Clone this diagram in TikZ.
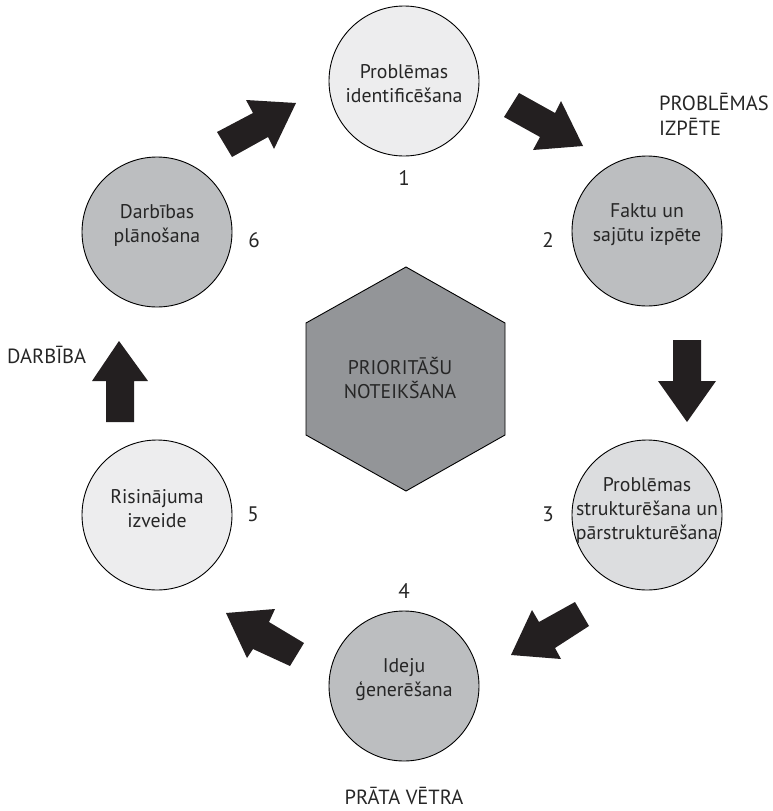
\documentclass[tikz,border=0pt]{standalone}
\usepackage{fontspec}
\setmainfont{PT Sans}
\definecolor{clight}{HTML}{EDEDEE}
\definecolor{cmid}{HTML}{DCDDDF}
\definecolor{cgray}{HTML}{BCBEC0}
\definecolor{chex}{HTML}{939598}
\definecolor{carrow}{HTML}{231F20}
\tikzset{
  stage/.style={circle, draw=black, line width=0.9pt, minimum size=150pt, inner sep=0pt},
  stagetext/.style={align=center, inner sep=0pt, font=\fontsize{19.8}{24}\selectfont, text=black!85},
  numtext/.style={inner sep=0pt, font=\fontsize{21}{24}\selectfont, text=black!85},
  sidetext/.style={inner sep=0pt, font=\fontsize{20.5}{25}\selectfont, text=black!85},
  blockarrow/.style={fill=carrow, draw=none}
}
\begin{document}
\begin{tikzpicture}[x=1pt,y=-1pt]
\useasboundingbox (0,0) rectangle (772,811);
% stages
\node[stage, fill=clight] (c1) at (404,81) {};
\node[stage, fill=cgray]  (c2) at (647,231) {};
\node[stage, fill=cmid]   (c3) at (647,515) {};
\node[stage, fill=cgray]  (c4) at (404,686) {};
\node[stage, fill=clight] (c5) at (157,515) {};
\node[stage, fill=cgray]  (c6) at (157,232) {};
\node[stagetext] (t1) at (404,84) {Problēmas\\identificēšana};
\node[stagetext] (t2) at (647,225) {Faktu un\\sajūtu izpēte};
\node[stagetext] (t3) at (647,510) {Problēmas\\strukturēšana un\\pārstrukturēšana};
\node[stagetext] (t4) at (404,680) {Ideju\\ģenerēšana};
\node[stagetext] (t5) at (157,509) {Risinājuma\\izveide};
\node[stagetext] (t6) at (157,225) {Darbības\\plānošana};
% numbers
\node[numtext] (n1) at (404,178) {1};
\node[numtext] (n2) at (548,240) {2};
\node[numtext] (n3) at (548,514) {3};
\node[numtext] (n4) at (404,591) {4};
\node[numtext] (n5) at (253,514) {5};
\node[numtext] (n6) at (254,240) {6};
% side labels
\node[sidetext, align=left, anchor=west] (l1) at (659,114) {PROBLĒMAS\\IZPĒTE};
\node[sidetext, anchor=west] (l2) at (7,355) {DARBĪBA};
\node[sidetext] (l3) at (404,796) {PRĀTA VĒTRA};
% hexagon
\draw[fill=chex, draw=black, line width=0.9pt]
  (406,267) -- (505,323) -- (505,435) -- (406,491) -- (306,435) -- (306,323) -- cycle;
\node[stagetext] (hex) at (400,378) {PRIORITĀŠU\\NOTEIKŠANA};
% block arrows
\fill[blockarrow] (519,93) -- (555,113) -- (561,101) -- (583,146) -- (533,150) -- (540,137) -- (504,117) -- cycle;
\fill[blockarrow] (673,340) -- (701,340) -- (701,381) -- (716,381) -- (687,422) -- (658,381) -- (673,381) -- cycle;
\fill[blockarrow] (575,602) -- (539,622) -- (532,610) -- (511,655) -- (561,659) -- (555,648) -- (589,626) -- cycle;
\fill[blockarrow] (226,613) -- (275,609) -- (269,622) -- (304,643) -- (290,666) -- (253,649) -- (247,658) -- cycle;
\fill[blockarrow] (106,422) -- (134,422) -- (134,381) -- (148,381) -- (119,341) -- (92,381) -- (106,381) -- cycle;
\fill[blockarrow] (217,132) -- (253,113) -- (246,100) -- (296,103) -- (274,149) -- (268,137) -- (232,157) -- cycle;
\end{tikzpicture}
\end{document}
